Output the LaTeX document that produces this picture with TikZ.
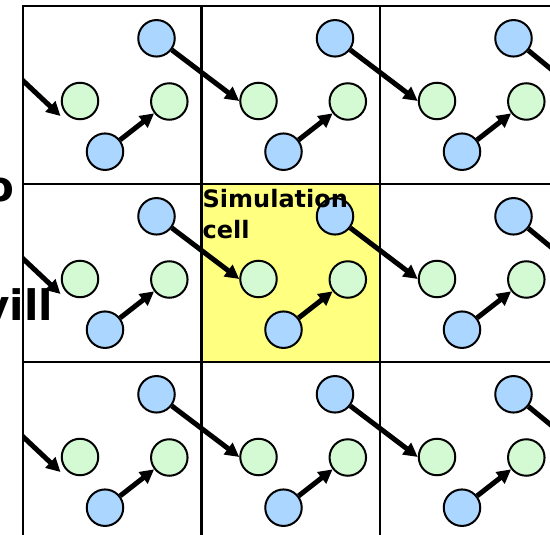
\documentclass[tikz,border=0pt]{standalone}
\usepackage{fontspec}
\setsansfont{DejaVu Sans}
\usetikzlibrary{arrows.meta}
\definecolor{pblue}{RGB}{170,214,255}
\definecolor{pgreen}{RGB}{212,250,212}
\definecolor{pyellow}{RGB}{255,255,128}
\tikzset{
  blueatom/.style={circle,draw=black,line width=2pt,fill=pblue,minimum size=36.5pt,inner sep=0pt},
  greenatom/.style={circle,draw=black,line width=2pt,fill=pgreen,minimum size=36.5pt,inner sep=0pt},
  gridline/.style={line width=2.2pt},
  arr/.style={line width=5pt,-{Triangle[length=14pt,width=14pt]}},
  slidetext/.style={font=\sffamily\bfseries\fontsize{42}{50}\selectfont,anchor=base east,inner sep=0pt},
}
\begin{document}
\begin{tikzpicture}[x=1pt,y=-1pt]
\useasboundingbox (0,0) rectangle (550,535);
\begin{scope}
  \clip (22,0) rectangle (550,535);
  \fill[pyellow] (201.5,184) rectangle (380,362);
  \foreach \i in {0,1,2} \draw[gridline] ({23+178.5*\i},6) -- ({23+178.5*\i},540);
  \foreach \j in {0,1,2} \draw[gridline] (21.9,{6+178*\j}) -- (560,{6+178*\j});
  \foreach \i in {0,1,2}{
    \foreach \j in {0,1,2}{
      \pgfmathsetmacro\xo{23+178.5*\i}
      \pgfmathsetmacro\yo{6+178*\j}
      \node[blueatom]  (bt\i\j) at ({\xo+133.5},{\yo+32.3}) {};
      \node[greenatom] (gl\i\j) at ({\xo+57},{\yo+95}) {};
      \node[greenatom] (gr\i\j) at ({\xo+146.3},{\yo+95.5}) {};
      \node[blueatom]  (bb\i\j) at ({\xo+82},{\yo+145.7}) {};
    }
  }
  \foreach \i in {0,1,2}
    \foreach \j in {0,1,2}
      \draw[arr] (bb\i\j) -- (gr\i\j);
  \foreach \i/\ii in {0/1,1/2}
    \foreach \j in {0,1,2}
      \draw[arr] (bt\i\j) -- (gl\ii\j.west);
  \foreach \j in {0,1,2}{
    \pgfmathsetmacro\yo{6+178*\j}
    \coordinate (in\j) at (-22,{\yo+32.3});
    \coordinate (tip\j) at (60.5,{\yo+110});
    \coordinate (out\j) at (600,{\yo+103.3});
    \draw[arr] (in\j) -- (tip\j);
    \draw[arr] (bt2\j) -- (out\j);
  }
\end{scope}
\node[font=\sffamily\bfseries\fontsize{24}{31}\selectfont,align=left,anchor=north west,inner sep=0pt] (simlabel) at (202.5,189) {Simulation\\cell};
\node[slidetext] (fragA) at (15,201) {o};
\node[slidetext] (fragB) at (53,320) {vill};
\end{tikzpicture}
\end{document}
